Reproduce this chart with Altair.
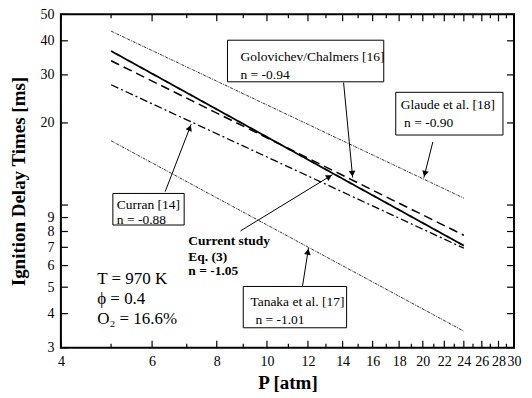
import math
import altair as alt
import pandas as pd

# ---------------- data ----------------
series = ["Glaude et al. [18]", "Current study", "Golovichev/Chalmers [16]",
          "Curran [14]", "Tanaka et al. [17]"]
p_start = [5, 5, 5, 5, 5]
p_end = [24, 24, 24, 24, 24]
tau_start = [43.4, 36.7, 33.8, 27.6, 17.2]
tau_end = [10.6, 7.1, 7.75, 6.95, 3.45]

x_labels = [4, 6, 8, 10, 12, 14, 16, 18, 20, 22, 24, 26, 28, 30]
x_minor = [5, 7, 9, 11, 13, 15, 17, 19, 21, 23, 25, 27, 29]
y_labels = [3, 4, 5, 6, 7, 8, 9, 20, 30, 40, 50]
y_ticks = [3, 4, 5, 6, 7, 8, 9, 10, 20, 30, 40, 50]

# annotation boxes (data coords): p_left, p_right, tau_top, tau_bottom
box_p1 = [8.39, 17.73, 5.04, 9.00]
box_p2 = [16.81, 28.56, 6.92, 14.25]
box_t1 = [40.2, 25.9, 11.03, 5.03]
box_t2 = [28.3, 18.06, 8.45, 3.55]

# annotation texts
ann_text = ["Golovichev/Chalmers [16]", "n = -0.94",
            "Glaude et al. [18]", "n = -0.90",
            "Curran [14]", "n = -0.88",
            "Tanaka et al. [17]", "n = -1.01"]
ann_p = [8.89, 8.89, 18.13, 18.40, 5.13, 5.13, 9.29, 9.50]
ann_tau = [34.9, 30.05, 23.2, 19.96, 9.98, 8.81, 4.41, 3.79]

bold_text = ["Current study", "Eq. (3)", "n = -1.05"]
bold_p = [7.05, 7.05, 7.05]
bold_tau = [7.39, 6.47, 5.71]

cond_text = ["T = 970 K", "\u03d5 = 0.4", "O\u2082 = 16.6%"]
cond_p = [4.70, 4.70, 4.70]
cond_tau = [5.34, 4.52, 3.83]

# arrows: tail -> tip
arr_p1 = [14.06, 20.91, 6.36, 8.89, 11.71]
arr_t1 = [28.1, 17.03, 11.2, 8.04, 5.03]
arr_p2 = [14.64, 20.09, 7.14, 13.39, 12.03]
arr_t2 = [12.6, 12.6, 19.8, 12.93, 6.97]

# ---------------- layout / styles ----------------
W, H = 454, 334
XD, YD = [4, 30], [3, 50]
FONT = "Liberation Serif, Times New Roman, serif"

def px(p):
    return W * math.log(p / XD[0]) / math.log(XD[1] / XD[0])

def py(t):
    return H * (1 - math.log(t / YD[0]) / math.log(YD[1] / YD[0]))

def inv(x, y):
    p = XD[0] * math.exp(x / W * math.log(XD[1] / XD[0]))
    t = YD[0] * math.exp((1 - y / H) * math.log(YD[1] / YD[0]))
    return p, t

rows = []
for s, a, b, c, d in zip(series, p_start, p_end, tau_start, tau_end):
    rows.append({"s": s, "p": a, "tau": c, "o": 0})
    rows.append({"s": s, "p": b, "tau": d, "o": 1})
lines_df = pd.DataFrame(rows)

dashes = [[3, 1, 1, 1], [1, 0], [9, 5], [8, 3, 2, 3], [3, 1, 1, 1]]
widths = [0.8, 1.8, 1.5, 1.3, 0.8]

xs = alt.Scale(type="log", domain=XD, nice=False)
ys = alt.Scale(type="log", domain=YD, nice=False)

axis_style = dict(format="d", ticks=False, domain=False, grid=False,
                  labelOverlap=False, labelBound=False, labelFlush=False,
                  labelFont=FONT, labelFontSize=14, labelColor="black",
                  titleFont=FONT, titleFontSize=19, titleFontWeight="bold",
                  titleColor="black")
base_x = alt.X("p:Q", scale=xs,
               axis=alt.Axis(values=x_labels, title="P [atm]", labelPadding=7,
                             titlePadding=5, **axis_style))
base_y = alt.Y("tau:Q", scale=ys,
               axis=alt.Axis(values=y_labels, title="Ignition Delay Times [ms]",
                             labelPadding=7, titlePadding=11, **axis_style))

line_layers = []
for i, s in enumerate(series):
    line_layers.append(
        alt.Chart(lines_df).transform_filter(alt.datum.s == s).mark_line(
            color="black", strokeWidth=widths[i], strokeDash=dashes[i]
        ).encode(x=base_x, y=base_y, order="o:Q")
    )

# ticks (inward)
xt_major = pd.DataFrame({"p": x_labels})
xt_minor = pd.DataFrame({"p": x_minor})
yt = pd.DataFrame({"tau": y_ticks})
X = alt.X("p:Q", scale=xs)
Y = alt.Y("tau:Q", scale=ys)
tk = dict(color="black", strokeWidth=1.2)
ticks = [
    alt.Chart(xt_major).mark_rule(**tk).encode(x=X, y=alt.value(H), y2=alt.value(H - 7)),
    alt.Chart(xt_major).mark_rule(**tk).encode(x=X, y=alt.value(0), y2=alt.value(7)),
    alt.Chart(xt_minor).mark_rule(**tk).encode(x=X, y=alt.value(H), y2=alt.value(H - 4)),
    alt.Chart(xt_minor).mark_rule(**tk).encode(x=X, y=alt.value(0), y2=alt.value(4)),
    alt.Chart(yt).mark_rule(**tk).encode(y=Y, x=alt.value(0), x2=alt.value(7)),
    alt.Chart(yt).mark_rule(**tk).encode(y=Y, x=alt.value(W), x2=alt.value(W - 7)),
]

boxes_df = pd.DataFrame({"p1": box_p1, "p2": box_p2, "t1": box_t1, "t2": box_t2})
boxes = alt.Chart(boxes_df).mark_rect(fill="white", stroke="black", strokeWidth=1).encode(
    x=alt.X("p1:Q", scale=xs), x2="p2:Q",
    y=alt.Y("t1:Q", scale=ys), y2="t2:Q")

ann_df = pd.DataFrame({"txt": ann_text, "p": ann_p, "tau": ann_tau})
ann = alt.Chart(ann_df).mark_text(align="left", baseline="middle", font=FONT,
                                  fontSize=13.5, color="black").encode(
    x=X, y=Y, text="txt:N")

bold_df = pd.DataFrame({"txt": bold_text, "p": bold_p, "tau": bold_tau})
bold = alt.Chart(bold_df).mark_text(align="left", baseline="middle", font=FONT,
                                    fontSize=13.5, fontWeight="bold", color="black").encode(
    x=X, y=Y, text="txt:N")

cond_df = pd.DataFrame({"txt": cond_text, "p": cond_p, "tau": cond_tau})
cond = alt.Chart(cond_df).mark_text(align="left", baseline="middle", font=FONT,
                                    fontSize=17, color="black").encode(
    x=X, y=Y, text="txt:N")

arr_df = pd.DataFrame({"p1": arr_p1, "t1": arr_t1, "p2": arr_p2, "t2": arr_t2})
arrows = alt.Chart(arr_df).mark_rule(color="black", strokeWidth=1).encode(
    x=alt.X("p1:Q", scale=xs), x2="p2:Q",
    y=alt.Y("t1:Q", scale=ys), y2="t2:Q")

heads = []
for a, b, c, d in zip(arr_p1, arr_t1, arr_p2, arr_t2):
    x1, y1, x2, y2 = px(a), py(b), px(c), py(d)
    dx, dy = x2 - x1, y2 - y1
    L = math.hypot(dx, dy)
    ux, uy = dx / L, dy / L
    cx, cy = x2 - 4 * ux, y2 - 4 * uy
    hp, ht = inv(cx, cy)
    ang = math.degrees(math.atan2(dx, -dy)) % 360
    heads.append({"p": hp, "tau": ht, "ang": ang})
heads_df = pd.DataFrame(heads)
arrowheads = alt.Chart(heads_df).mark_point(shape="triangle-up", filled=True, color="black",
                                            opacity=1, size=45).encode(
    x=X, y=Y, angle=alt.Angle("ang:Q", scale=None))

chart = alt.layer(*line_layers, *ticks, boxes, ann, bold, cond, arrows, arrowheads).properties(
    width=W, height=H,
    autosize=alt.AutoSizeParams(type="none"),
    padding={"left": 53, "top": 6, "right": 10, "bottom": 50},
).configure_view(stroke="black", strokeWidth=2)

chart.save("out.html", embed_options={"renderer": "svg", "actions": False})
